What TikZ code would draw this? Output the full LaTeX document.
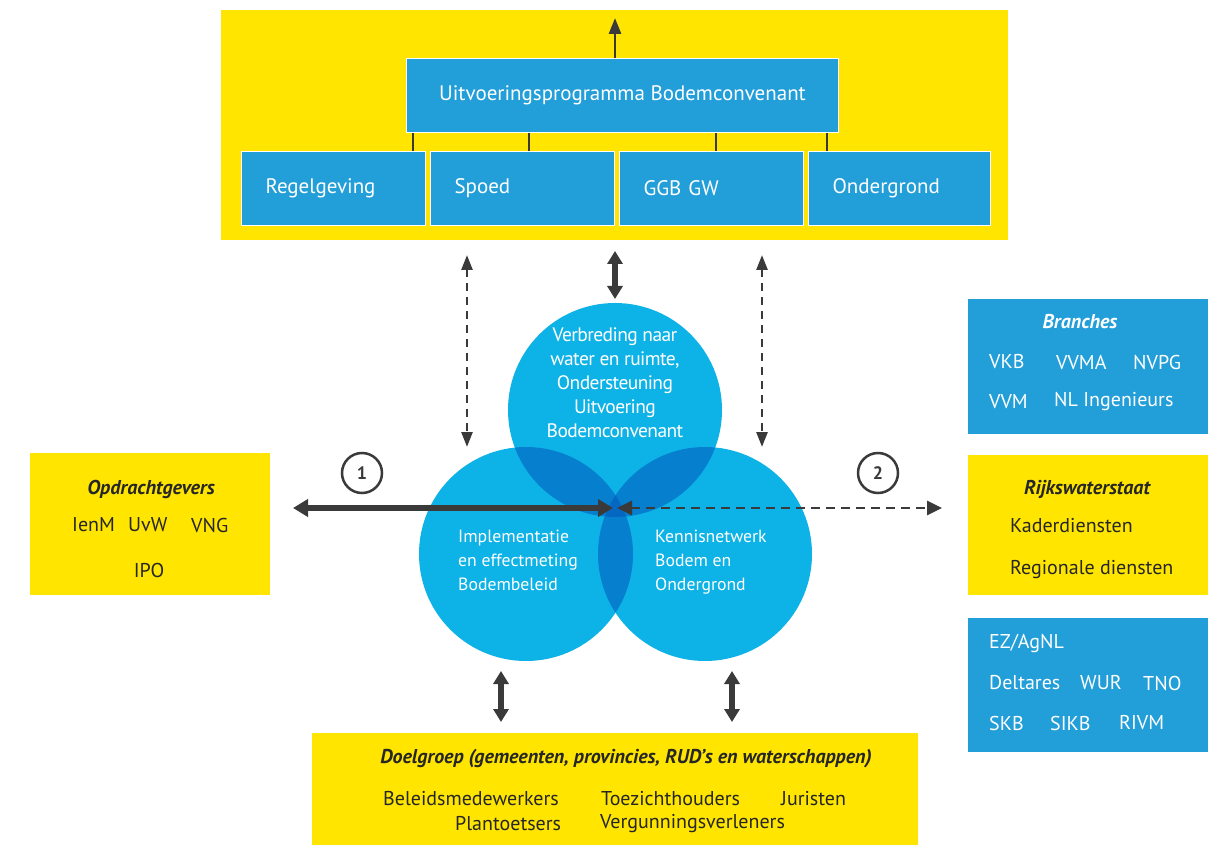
\documentclass[tikz,border=0pt]{standalone}
\usepackage{fontspec}
\setmainfont{PT Sans}
\usetikzlibrary{arrows.meta}
\definecolor{ryellow}{HTML}{FFE500}
\definecolor{rblue}{HTML}{229ED9}
\definecolor{cblue}{HTML}{0DB2E6}
\definecolor{cpair}{HTML}{067FCE}
\definecolor{ctrip}{HTML}{0468C2}
\definecolor{adark}{HTML}{3A3A3A}
\begin{document}
\begin{tikzpicture}[x=1pt,y=-1pt,
  ybox/.style={fill=ryellow, inner sep=0pt, anchor=north west},
  bbox/.style={fill=rblue, inner sep=0pt, anchor=north west},
  pbox/.style={fill=rblue, draw=white, line width=1pt, anchor=north west, minimum height=74pt, text=white, font=\fontsize{21}{24}\selectfont},
  subbox/.style={pbox, minimum width=184pt, text width=136pt, inner xsep=24pt, align=left},
  conn/.style={draw=adark, line width=2.8pt},
  dtip/.style={-{Triangle[length=16pt,width=12pt]}},
  ddash/.style={draw=adark, line width=2.6pt, dash pattern=on 8pt off 6pt, {Triangle[length=15pt,width=11pt]}-{Triangle[length=15pt,width=11pt]}},
  dsolid/.style={draw=adark, line width=5.5pt, {Triangle[length=13pt,width=15pt]}-{Triangle[length=13pt,width=15pt]}},
  wtxt/.style={text=white, inner sep=0pt, font=\fontsize{17.7}{24}\selectfont},
  ktxt/.style={text=black!85, inner sep=0pt, font=\fontsize{20}{22}\selectfont},
  btxt/.style={text=white, inner sep=0pt, font=\fontsize{20}{22}\selectfont},
  hdr/.style={font=\fontsize{20}{22}\selectfont\bfseries\itshape},
  numc/.style={circle, draw=adark, line width=2.5pt, minimum size=40pt, inner sep=0pt, font=\fontsize{18}{20}\selectfont\bfseries, text=adark}
]
\useasboundingbox (0,0) rectangle (1211,845);
\fill[white] (0,0) rectangle (1211,845);

% top block
\node[ybox, minimum width=787pt, minimum height=230pt] (topbg) at (221,10) {};
\node[pbox, minimum width=432pt] (prog) at (406,58) {\raisebox{-2pt}{Uitvoeringsprogramma Bodemconvenant}};
\node[subbox] (reg) at (241,151) {\raisebox{-3pt}{Regelgeving}};
\node[subbox] (spoed) at (430,151) {\raisebox{-3pt}{Spoed}};
\node[subbox] (ggb) at (619,151) {\raisebox{-3pt}{GGB GW}};
\node[subbox, minimum width=182pt, text width=134pt] (onder) at (808,151) {\raisebox{-3pt}{Ondergrond}};

\path (prog.south west) ++(7,0) coordinate (c1);
\path (prog.south west) ++(123,0) coordinate (c2);
\path (prog.south west) ++(310,0) coordinate (c3);
\path (prog.south east) ++(-12,0) coordinate (c4);
\draw[conn] (c1) -- (c1 |- reg.north);
\draw[conn] (c2) -- (c2 |- spoed.north);
\draw[conn] (c3) -- (c3 |- ggb.north);
\draw[conn] (c4) -- (c4 |- onder.north);

\coordinate (progtop) at (615,58);
\coordinate (topend) at (615,18);
\draw[conn, dtip] (progtop) -- (topend);

% circles
\coordinate (ct) at (615,410);
\coordinate (cl) at (526,554);
\coordinate (cr) at (705,554);
\node[circle, fill=cblue, minimum size=214pt, inner sep=0pt] (ctop) at (ct) {};
\node[circle, fill=cblue, minimum size=214pt, inner sep=0pt] (cleft) at (cl) {};
\node[circle, fill=cblue, minimum size=214pt, inner sep=0pt] (cright) at (cr) {};
\begin{scope}
  \clip (ct) circle (107pt);
  \fill[cpair] (cl) circle (107pt);
  \fill[cpair] (cr) circle (107pt);
\end{scope}
\begin{scope}
  \clip (cl) circle (107pt);
  \fill[cpair] (cr) circle (107pt);
\end{scope}
\begin{scope}
  \clip (ct) circle (107pt);
  \clip (cl) circle (107pt);
  \fill[ctrip] (cr) circle (107pt);
\end{scope}

\node[wtxt, font=\fontsize{19.5}{24}\selectfont, align=center, anchor=north] (ttop) at (615,327) {\addfontfeature{LetterSpace=-3}Verbreding naar\\ \addfontfeature{LetterSpace=-3}water en ruimte,\\ \addfontfeature{LetterSpace=-3}Ondersteuning\\ \addfontfeature{LetterSpace=-3}Uitvoering\\ \addfontfeature{LetterSpace=-3}Bodemconvenant};
\node[wtxt, align=left, anchor=north west] (tleft) at (458,530) {Implementatie\\en effectmeting\\Bodembeleid};
\node[wtxt, align=left, anchor=north west] (tright) at (655,530) {Kennisnetwerk\\Bodem en\\Ondergrond};

% arrows around circles
\coordinate (dl1) at (467,255); \coordinate (dl2) at (467,447);
\coordinate (dr1) at (762,255); \coordinate (dr2) at (762,447);
\draw[ddash] (dl1) -- (dl2);
\draw[ddash] (dr1) -- (dr2);
\coordinate (m1) at (615,251); \coordinate (m2) at (615,299);
\draw[dsolid] (m1) -- (m2);

\coordinate (hl) at (293,508); \coordinate (hc1) at (613,508);
\coordinate (hc2) at (617,508); \coordinate (hr) at (942,508);
\draw[draw=adark, line width=6pt, {Triangle[length=15pt,width=17pt]}-{Triangle[length=15pt,width=17pt]}] (hl) -- (hc1);
\draw[draw=adark, line width=2.8pt, dash pattern=on 9pt off 6pt, {Triangle[length=15pt,width=14pt]}-{Triangle[length=15pt,width=14pt]}] (hc2) -- (hr);

\node[numc] (n1) at (362,473) {1};
\node[numc] (n2) at (878,473) {2};

% left box
\node[ybox, minimum width=240pt, minimum height=142pt] (opd) at (30,453) {};
\node[ktxt, hdr] (opdt) at (151,489) {Opdrachtgevers};
\node[ktxt, anchor=west] (ienm) at (72,525) {IenM};
\node[ktxt, anchor=west] (uvw) at (128,525) {UvW};
\node[ktxt, anchor=west] (vng) at (191,525) {VNG};
\node[ktxt] (ipo) at (149,570) {IPO};

% right boxes
\node[bbox, minimum width=240pt, minimum height=135pt] (bra) at (968,299) {};
\node[btxt, hdr] (brat) at (1080,322) {Branches};
\node[btxt, anchor=west] (vkb) at (989,362) {VKB};
\node[btxt, anchor=west] (vvma) at (1056,362) {VVMA};
\node[btxt, anchor=west] (nvpg) at (1133,362) {NVPG};
\node[btxt, anchor=west] (vvm) at (989,402) {VVM};
\node[btxt, anchor=west] (nling) at (1054,402) {NL Ingenieurs};

\node[ybox, minimum width=240pt, minimum height=140pt] (rws) at (968,455) {};
\node[ktxt, hdr] (rwst) at (1087,489) {Rijkswaterstaat};
\node[ktxt, anchor=west] (kad) at (1010,526) {Kaderdiensten};
\node[ktxt, anchor=west] (regd) at (1010,570) {Regionale diensten};

\node[bbox, minimum width=240pt, minimum height=134pt] (ez) at (968,618) {};
\node[btxt, anchor=west] (ezag) at (989,643) {EZ/AgNL};
\node[btxt, anchor=west] (delt) at (989,683) {Deltares};
\node[btxt, anchor=west] (wur) at (1080,683) {WUR};
\node[btxt, anchor=west] (tno) at (1143,683) {TNO};
\node[btxt, anchor=west] (skb) at (989,723) {SKB};
\node[btxt, anchor=west] (sikb) at (1050,723) {SIKB};
\node[btxt, anchor=west] (rivm) at (1119,723) {RIVM};

% bottom box
\node[ybox, minimum width=606pt, minimum height=112pt] (doel) at (312,733) {};
\node[ktxt, hdr] (doelt) at (626,759) {Doelgroep (gemeenten, provincies, RUD’s en waterschappen)};
\node[ktxt, anchor=west] (bel) at (383,799) {Beleidsmedewerkers};
\node[ktxt, anchor=west] (toe) at (601,799) {Toezichthouders};
\node[ktxt, anchor=west] (jur) at (781,799) {Juristen};
\node[ktxt, anchor=west] (plan) at (455,824) {Plantoetsers};
\node[ktxt, anchor=west] (verg) at (600,824) {Vergunningsverleners};

\coordinate (b1a) at (501,671); \coordinate (b1b) at (501,722);
\coordinate (b2a) at (732,671); \coordinate (b2b) at (732,722);
\draw[dsolid] (b1a) -- (b1b);
\draw[dsolid] (b2a) -- (b2b);
\end{tikzpicture}
\end{document}
